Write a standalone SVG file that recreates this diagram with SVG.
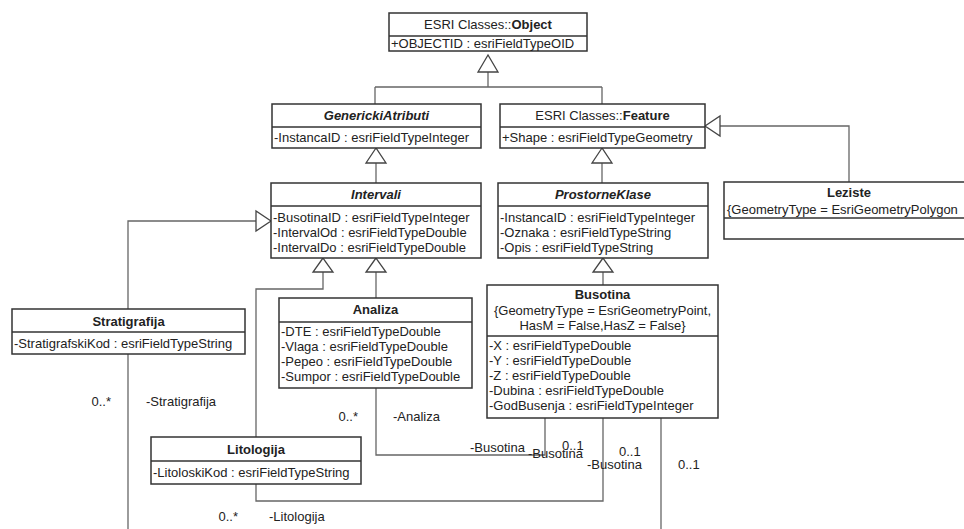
<svg xmlns="http://www.w3.org/2000/svg" width="964" height="529" viewBox="0 0 964 529">
<style>
text{font-family:"Liberation Sans",Arial,sans-serif;font-size:13px;fill:#222}
.b{font-weight:bold}
.bi{font-weight:bold;font-style:italic}
.m{text-anchor:middle}
.box{fill:#fff;stroke:#333;stroke-width:1.5}
.div{stroke:#333;stroke-width:1.5}
.ln{fill:none;stroke:#666;stroke-width:1.3}
.tri{fill:#fff;stroke:#444;stroke-width:1.3}
</style>
<rect width="964" height="529" fill="#fff"/>
<g id="connectors">
  <path class="ln" d="M488,72 V87 M375,87 H602 M375,87 V104 M602,87 V104"/>
  <path class="ln" d="M376,163 V183"/>
  <path class="ln" d="M602,163 V183"/>
  <path class="ln" d="M720,126 H849 V182"/>
  <path class="ln" d="M256,221 H128 V309"/>
  <path class="ln" d="M376,272 V298"/>
  <path class="ln" d="M323,272 V289 H256 V437"/>
  <path class="ln" d="M603,272 V285"/>
  <path class="ln" d="M376,388 V455 H545 V418"/>
  <path class="ln" d="M256,484 V501 H603 V418"/>
  <path class="ln" d="M128,354 V529"/>
  <path class="ln" d="M661,418 V529"/>
  <polygon class="tri" points="488,55 478,72 498,72"/>
  <polygon class="tri" points="376,148 366,163 386,163"/>
  <polygon class="tri" points="602,148 592,163 612,163"/>
  <polygon class="tri" points="705,126 720,116 720,136"/>
  <polygon class="tri" points="271,221 256,211 256,231"/>
  <polygon class="tri" points="376,258 366,272 386,272"/>
  <polygon class="tri" points="323,258 313,272 333,272"/>
  <polygon class="tri" points="603,258 593,272 613,272"/>
  <text x="111" y="406" text-anchor="end">0..*</text>
  <text x="146" y="406">-Stratigrafija</text>
  <text x="358" y="421" text-anchor="end">0..*</text>
  <text x="393" y="421">-Analiza</text>
  <text x="470" y="452">-Busotina</text>
  <text x="562" y="450">0..1</text>
  <text x="528" y="458">-Busotina</text>
  <text x="619" y="456">0..1</text>
  <text x="587" y="469">-Busotina</text>
  <text x="678" y="469">0..1</text>
  <text x="238" y="521" text-anchor="end">0..*</text>
  <text x="269" y="521">-Litologija</text>
</g>
<g id="Object">
  <rect class="box" x="389" y="13" width="198" height="38"/>
  <line class="div" x1="389" y1="36" x2="587" y2="36"/>
  <text class="m" x="488" y="29">ESRI Classes::<tspan class="b">Object</tspan></text>
  <text x="391" y="48">+OBJECTID : esriFieldTypeOID</text>
</g>
<g id="GenerickiAtributi">
  <rect class="box" x="272" y="104" width="209" height="44"/>
  <line class="div" x1="272" y1="127" x2="481" y2="127"/>
  <text class="m bi" x="376.5" y="120">GenerickiAtributi</text>
  <text x="274" y="142">-InstancaID : esriFieldTypeInteger</text>
</g>
<g id="Feature">
  <rect class="box" x="500" y="104" width="205" height="44"/>
  <line class="div" x1="500" y1="127" x2="705" y2="127"/>
  <text class="m" x="602.5" y="120">ESRI Classes::<tspan class="b">Feature</tspan></text>
  <text x="502" y="142">+Shape : esriFieldTypeGeometry</text>
</g>
<g id="Intervali">
  <rect class="box" x="271" y="183" width="210" height="75"/>
  <line class="div" x1="271" y1="206" x2="481" y2="206"/>
  <text class="m bi" x="376" y="199">Intervali</text>
  <text x="273" y="222">-BusotinaID : esriFieldTypeInteger</text>
  <text x="273" y="237">-IntervalOd : esriFieldTypeDouble</text>
  <text x="273" y="252">-IntervalDo : esriFieldTypeDouble</text>
</g>
<g id="ProstorneKlase">
  <rect class="box" x="498" y="183" width="210" height="75"/>
  <line class="div" x1="498" y1="206" x2="708" y2="206"/>
  <text class="m bi" x="603" y="199">ProstorneKlase</text>
  <text x="500" y="222">-InstancaID : esriFieldTypeInteger</text>
  <text x="500" y="237">-Oznaka : esriFieldTypeString</text>
  <text x="500" y="252">-Opis : esriFieldTypeString</text>
</g>
<g id="Leziste">
  <rect class="box" x="724" y="182" width="250" height="57"/>
  <line class="div" x1="724" y1="218" x2="974" y2="218"/>
  <text class="m b" x="849" y="197">Leziste</text>
  <text x="727" y="214">{GeometryType = EsriGeometryPolygon</text>
</g>
<g id="Stratigrafija">
  <rect class="box" x="12" y="309" width="233" height="45"/>
  <line class="div" x1="12" y1="332" x2="245" y2="332"/>
  <text class="m b" x="128.5" y="326">Stratigrafija</text>
  <text x="14" y="348">-StratigrafskiKod : esriFieldTypeString</text>
</g>
<g id="Analiza">
  <rect class="box" x="279" y="298" width="193" height="90"/>
  <line class="div" x1="279" y1="322" x2="472" y2="322"/>
  <text class="m b" x="375.5" y="314">Analiza</text>
  <text x="281" y="336">-DTE : esriFieldTypeDouble</text>
  <text x="281" y="351">-Vlaga : esriFieldTypeDouble</text>
  <text x="281" y="366">-Pepeo : esriFieldTypeDouble</text>
  <text x="281" y="381">-Sumpor : esriFieldTypeDouble</text>
</g>
<g id="Busotina">
  <rect class="box" x="487" y="285" width="231" height="133"/>
  <line class="div" x1="487" y1="336" x2="718" y2="336"/>
  <text class="m b" x="602.5" y="299">Busotina</text>
  <text class="m" x="602.5" y="315">{GeometryType = EsriGeometryPoint,</text>
  <text class="m" x="602.5" y="330">HasM = False,HasZ = False}</text>
  <text x="489" y="350">-X : esriFieldTypeDouble</text>
  <text x="489" y="365">-Y : esriFieldTypeDouble</text>
  <text x="489" y="380">-Z : esriFieldTypeDouble</text>
  <text x="489" y="395">-Dubina : esriFieldTypeDouble</text>
  <text x="489" y="410">-GodBusenja : esriFieldTypeInteger</text>
</g>
<g id="Litologija">
  <rect class="box" x="151" y="437" width="210" height="47"/>
  <line class="div" x1="151" y1="461" x2="361" y2="461"/>
  <text class="m b" x="256" y="454">Litologija</text>
  <text x="153" y="477">-LitoloskiKod : esriFieldTypeString</text>
</g>
</svg>
